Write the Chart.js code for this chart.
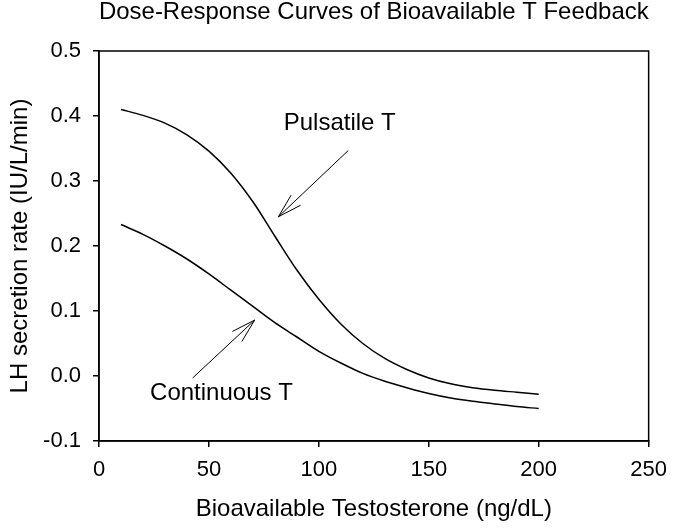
<!DOCTYPE html>
<html lang="en">
  <head>
    <meta charset="UTF-8" />
    <title>Dose-Response Curves of Bioavailable T Feedback</title>
    <script src="https://cdn.jsdelivr.net/npm/chart.js@4.4.1/dist/chart.umd.min.js"></script>
    <style>
      body { margin: 0; background: #fff; }
    </style>
  </head>
  <body>
    <canvas id="myChart" width="677" height="529"></canvas>
    <script>
      // bioavailable T (ng/dL)
      const dose = [10, 20, 30, 40, 50, 60, 70, 80, 90, 100, 110, 120, 130, 140, 150, 160, 170, 180, 190, 200]
      // LH secretion rate (IU/L/min)
      const pulsatile = [0.41, 0.401, 0.389, 0.371, 0.346, 0.312, 0.268, 0.215, 0.163, 0.118, 0.08, 0.05, 0.027, 0.01, -0.003, -0.012, -0.018, -0.022, -0.025, -0.028]
      const continuous = [0.233, 0.218, 0.2, 0.18, 0.157, 0.132, 0.107, 0.082, 0.06, 0.038, 0.02, 0.004, -0.008, -0.018, -0.027, -0.034, -0.039, -0.043, -0.047, -0.05]

      const seriesNames = ["Pulsatile T", "Continuous T"]

      // text + arrow notes, in data units
      const notes = [
        { text: "Pulsatile T", x: 109.5, y: 0.389, fromX: 113.4, fromY: 0.347, toX: 81.6, toY: 0.245 },
        { text: "Continuous T", x: 55.7, y: -0.026, fromX: 42.6, fromY: -0.003, toX: 70.8, toY: 0.086 },
      ]

      const FONT = "'Liberation Sans', Arial, Helvetica, sans-serif"
      Chart.defaults.font.family = FONT
      Chart.defaults.color = "#000"

      const toPoints = (ys) => dose.map((x, i) => ({ x: x, y: ys[i] }))

      const frame = {
        id: "frame",
        afterDatasetsDraw(chart) {
          const { ctx, chartArea: a, scales } = chart
          ctx.save()
          ctx.strokeStyle = "#000"
          ctx.lineWidth = 1.5
          ctx.strokeRect(a.left, a.top, a.right - a.left, a.bottom - a.top)

          ctx.lineWidth = 1
          ctx.font = "24px " + FONT
          ctx.fillStyle = "#000"
          ctx.textAlign = "center"
          ctx.textBaseline = "middle"
          notes.forEach((n) => {
            const x0 = scales.x.getPixelForValue(n.fromX)
            const y0 = scales.y.getPixelForValue(n.fromY)
            const x1 = scales.x.getPixelForValue(n.toX)
            const y1 = scales.y.getPixelForValue(n.toY)
            const ang = Math.atan2(y0 - y1, x0 - x1)
            const head = 25
            const spread = 0.28
            ctx.beginPath()
            ctx.moveTo(x0, y0)
            ctx.lineTo(x1, y1)
            ctx.moveTo(x1 + head * Math.cos(ang - spread), y1 + head * Math.sin(ang - spread))
            ctx.lineTo(x1, y1)
            ctx.lineTo(x1 + head * Math.cos(ang + spread), y1 + head * Math.sin(ang + spread))
            ctx.stroke()
            ctx.fillText(n.text, scales.x.getPixelForValue(n.x), scales.y.getPixelForValue(n.y))
          })
          ctx.restore()
        },
      }

      const ctx = document.getElementById("myChart").getContext("2d")
      const myChart = new Chart(ctx, {
        type: "line",
        data: {
          datasets: [
            {
              label: seriesNames[0],
              data: toPoints(pulsatile),
              borderColor: "#000",
              borderWidth: 1.5,
              pointRadius: 0,
              cubicInterpolationMode: "monotone",
            },
            {
              label: seriesNames[1],
              data: toPoints(continuous),
              borderColor: "#000",
              borderWidth: 1.5,
              pointRadius: 0,
              cubicInterpolationMode: "monotone",
            },
          ],
        },
        plugins: [frame],
        options: {
          responsive: false,
          animation: false,
          layout: { padding: { left: 0, right: 21, top: 0, bottom: 0 } },
          plugins: {
            legend: { display: false },
            tooltip: { enabled: false },
            title: {
              display: true,
              fullSize: false,
              text: "Dose-Response Curves of Bioavailable T Feedback",
              color: "#000",
              font: { size: 24, weight: "normal", lineHeight: 1 },
              padding: { top: 0, bottom: 27 },
            },
          },
          scales: {
            x: {
              type: "linear",
              min: 0,
              max: 250,
              afterFit(scale) { scale.height = 88 },
              ticks: { stepSize: 50, font: { size: 22 }, padding: 10, maxRotation: 0 },
              grid: { drawOnChartArea: false, drawTicks: true, tickLength: 6, color: "#000", lineWidth: 1.5 },
              border: { display: true, color: "#000", width: 1.5 },
              title: {
                display: true,
                text: "Bioavailable Testosterone (ng/dL)",
                font: { size: 24 },
                padding: { top: 0, bottom: 5 },
              },
            },
            y: {
              min: -0.1,
              max: 0.5,
              afterFit(scale) { scale.width = 99 },
              ticks: {
                stepSize: 0.1,
                font: { size: 22 },
                padding: 12,
                callback: (v) => (Math.abs(v) < 1e-9 ? "0.0" : v.toFixed(1)),
              },
              grid: { drawOnChartArea: false, drawTicks: true, tickLength: 6, color: "#000", lineWidth: 1.5 },
              border: { display: true, color: "#000", width: 1.5 },
              title: {
                display: true,
                text: "LH secretion rate (IU/L/min)",
                font: { size: 24 },
                padding: { top: 6, bottom: 0 },
              },
            },
          },
        },
      })
    </script>
  </body>
</html>
